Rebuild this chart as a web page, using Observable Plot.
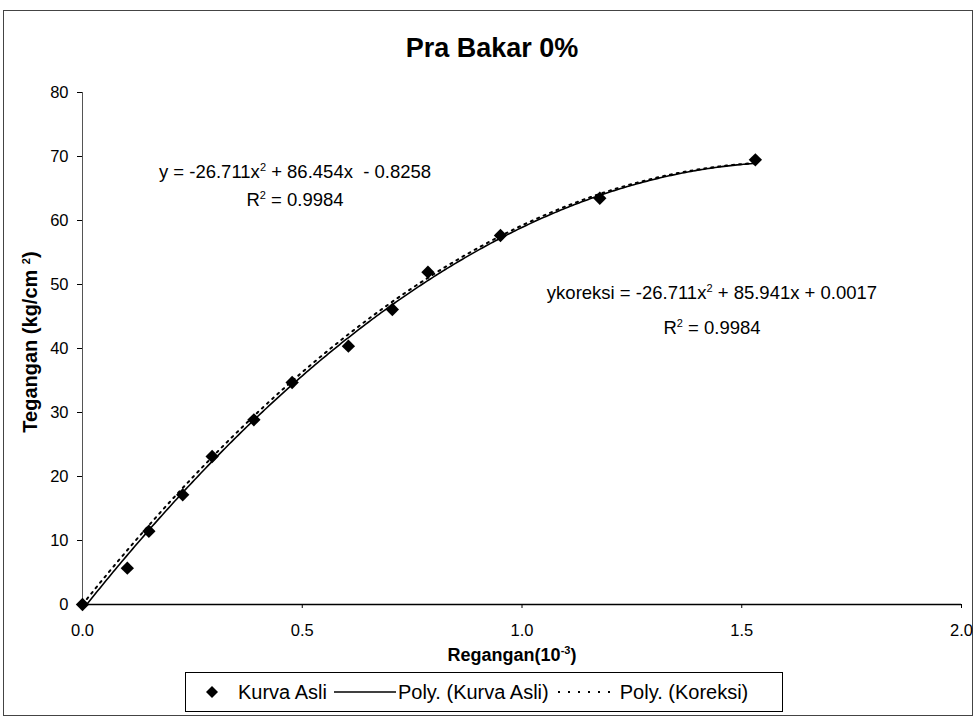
<!DOCTYPE html>
<html>
<head>
<meta charset="utf-8">
<script src="https://cdn.jsdelivr.net/npm/d3@7"></script>
<script src="https://cdn.jsdelivr.net/npm/@observablehq/plot@0.6"></script>
<style>
  html, body { margin: 0; padding: 0; background: #fff; }
  #wrap { position: relative; width: 978px; height: 719px; font-family: "Liberation Sans", Arial, sans-serif; color: #000; overflow: hidden; }
  #frame { position: absolute; left: 3px; top: 10px; width: 970px; height: 706px; border: 1px solid #444; box-sizing: border-box; }
  #plot { position: absolute; left: 0; top: 0; }
  #title { position: absolute; left: 0; width: 984px; top: 32px; line-height: 32px; text-align: center; font-weight: bold; font-size: 27px; }
  .ann { position: absolute; font-size: 18.5px; line-height: 20px; text-align: center; white-space: nowrap; transform: translate(-50%, -50%); }
  .ann sup { font-size: 11px; vertical-align: 7px; line-height: 0; }
  .axlab { position: absolute; font-size: 18px; font-weight: bold; white-space: nowrap; line-height: 20px; }
  .axlab sup { font-size: 11px; vertical-align: 7px; line-height: 0; }
  #legend { position: absolute; left: 185px; top: 672px; width: 598px; height: 40px; border: 1px solid #000; box-sizing: border-box; display: flex; align-items: center; font-size: 20px; }
</style>
</head>
<body>
<div id="wrap">
  <div id="frame"></div>
  <div id="plot"></div>
  <div id="title">Pra Bakar 0%</div>
  <div class="ann" style="left:295px; top:172px;">y = -26.711x<sup>2</sup> + 86.454x &nbsp;- 0.8258</div>
  <div class="ann" style="left:295px; top:200px;">R<sup>2</sup> = 0.9984</div>
  <div class="ann" style="left:712px; top:293px;">ykoreksi = -26.711x<sup>2</sup> + 85.941x + 0.0017</div>
  <div class="ann" style="left:712px; top:328px;">R<sup>2</sup> = 0.9984</div>
  <div class="axlab" style="left:512px; top:655px; transform: translate(-50%,-50%);">Regangan(10<sup>-3</sup>)</div>
  <div class="axlab" style="left:30px; top:342px; font-size:20px; transform: translate(-50%,-50%) rotate(-90deg);">Tegangan (kg/cm <sup>2</sup>)</div>
  <div id="legend"></div>
</div>
<script>
// Kurva Asli data (Regangan in 10^-3, Tegangan in kg/cm2)
const regangan = [0, 0.102, 0.151, 0.228, 0.295, 0.390, 0.477, 0.605, 0.705, 0.786, 0.951, 1.177, 1.531];
const tegangan = [0, 5.67, 11.45, 17.14, 23.13, 28.86, 34.69, 40.36, 46.09, 51.92, 57.66, 63.48, 69.48];

// Trendline coefficients as printed on the chart: [a (x^2), b (x), c]
const coefAsli = [-26.711, 86.454, -0.8258];
const coefKoreksi = [-26.711, 85.941, 0.0017];

const xTicks = [0, 0.5, 1.0, 1.5, 2.0];
const yTicks = [0, 10, 20, 30, 40, 50, 60, 70, 80];

const points = regangan.map((x, i) => ({x, y: tegangan[i]}));
const poly = (c) => (x) => c[0] * x * x + c[1] * x + c[2];
const fA = poly(coefAsli), fK = poly(coefKoreksi);
const xMax = d3.max(regangan);
const xStartA = (-coefAsli[1] + Math.sqrt(coefAsli[1] ** 2 - 4 * coefAsli[0] * coefAsli[2])) / (2 * coefAsli[0]);
const samples = (x0) => d3.range(x0, xMax, 0.005).concat([xMax]);
const lineAsli = samples(xStartA).map(x => ({x, y: fA(x)}));
const lineKoreksi = samples(0).map(x => ({x, y: fK(x)}));

const chart = Plot.plot({
  width: 978,
  height: 719,
  marginLeft: 82,
  marginRight: 17,
  marginTop: 92,
  marginBottom: 115,
  style: { fontFamily: "Liberation Sans, Arial, sans-serif", fontSize: "16.5px", background: "transparent", color: "#000" },
  x: { domain: [0, 2], ticks: xTicks, tickFormat: d3.format(".1f"), tickSize: 4, tickPadding: 16, label: null },
  y: { domain: [0, 80], ticks: yTicks, tickSize: 5, tickPadding: 9, label: null },
  marks: [
    Plot.ruleX([0], { stroke: "#555", strokeWidth: 1 }),
    Plot.ruleY([0], { stroke: "#000", strokeWidth: 1.5 }),
    Plot.line(lineKoreksi, { x: "x", y: "y", stroke: "#000", strokeWidth: 2, strokeDasharray: "2,5" }),
    Plot.line(lineAsli, { x: "x", y: "y", stroke: "#000", strokeWidth: 1.6 }),
    Plot.dot(points, { x: "x", y: "y", symbol: "diamond2", r: 6, fill: "#000", stroke: "none" })
  ]
});
document.getElementById("plot").appendChild(chart);

// Legend
const legendItems = [
  { name: "Kurva Asli", type: "dot" },
  { name: "Poly. (Kurva Asli)", type: "solid" },
  { name: "Poly. (Koreksi)", type: "dotted" }
];
const lg = document.getElementById("legend");
legendItems.forEach((it) => {
  const sw = document.createElementNS("http://www.w3.org/2000/svg", "svg");
  if (it.type === "dot") {
    sw.setAttribute("width", 20); sw.setAttribute("height", 14);
    sw.style.marginLeft = "16px"; sw.style.marginRight = "16px";
    sw.innerHTML = '<path d="M10,1 L16,7 L10,13 L4,7 Z" fill="#000"/>';
  } else {
    sw.setAttribute("width", 64); sw.setAttribute("height", 14);
    sw.style.marginLeft = "6px"; sw.style.marginRight = "1px";
    sw.innerHTML = it.type === "solid"
      ? '<line x1="1" y1="7" x2="63" y2="7" stroke="#000" stroke-width="1.6"/>'
      : '<line x1="3" y1="7" x2="63" y2="7" stroke="#000" stroke-width="1.8" stroke-dasharray="2,8"/>';
  }
  lg.appendChild(sw);
  const t = document.createElement("span");
  t.textContent = it.name;
  lg.appendChild(t);
});
</script>
</body>
</html>
